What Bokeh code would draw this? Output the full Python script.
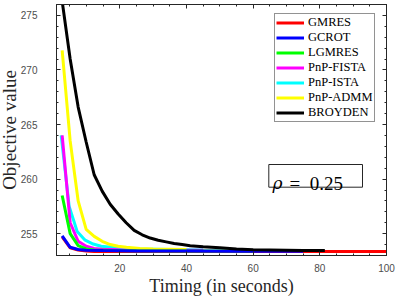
from bokeh.plotting import figure
from bokeh.models import (Range1d, LinearAxis, Legend, LegendItem, Label,
                          BoxAnnotation, SingleIntervalTicker)
from bokeh.embed import file_html
from bokeh.resources import INLINE

# ---- data ----
t_gmres = [2.7, 5.1, 7.5, 9.9, 12.3, 20, 40, 60, 80, 100]
v_gmres = [254.7, 253.7, 253.5, 253.42, 253.37, 253.36, 253.36, 253.36, 253.36, 253.36]

t_gcrot = [2.7, 5.1, 7.5, 9.9, 15, 25, 40, 55, 75]
v_gcrot = [254.8, 253.75, 253.55, 253.48, 253.45, 253.42, 253.41, 253.4, 253.4]

t_lgmres = [2.7, 5.1, 7.5, 9.9, 12.3, 17, 25, 40, 60]
v_lgmres = [258.5, 255.0, 253.9, 253.6, 253.5, 253.45, 253.43, 253.42, 253.42]

t_fista = [2.7, 5.1, 7.5, 9.9, 12.3, 14.7, 19.5, 25, 35, 45]
v_fista = [264.0, 256.0, 254.3, 253.85, 253.65, 253.57, 253.52, 253.5, 253.48, 253.47]

t_ista = [2.4, 4.8, 7.2, 9.6, 12.0, 14.4, 19, 25, 35, 45]
v_ista = [264.0, 257.5, 255.2, 254.4, 254.05, 253.85, 253.7, 253.6, 253.55, 253.5]

t_admm = [2.7, 5.1, 7.5, 9.9, 12.3, 14.7, 17.1, 19.5, 22, 26, 30, 40]
v_admm = [271.8, 263.5, 258.0, 255.4, 254.75, 254.3, 254.0, 253.85, 253.75, 253.65, 253.6, 253.55]

t_broyden = [2.7, 5.1, 7.5, 9.9, 12.3, 14.7, 17.1, 19.5, 21.9, 24.3, 26.7, 29.1,
             31.5, 33.9, 36.3, 38.7, 41.1, 45, 50, 55, 60, 65, 70, 75, 81.5]
v_broyden = [276.3, 271.0, 266.6, 263.4, 260.4, 258.9, 257.7, 256.8, 256.0, 255.3, 254.9, 254.6,
             254.4, 254.25, 254.1, 254.0, 253.9, 253.8, 253.7, 253.6, 253.52, 253.5, 253.48, 253.46, 253.45]

x_ticks_interval = 20
y_ticks_interval = 5

AXIS_COLOR = "#262626"
TICK_LABEL_COLOR = "#4d4d4d"
SERIF = "Liberation Serif"

p = figure(width=404, height=301, x_range=Range1d(1, 100), y_range=Range1d(253, 276),
           output_backend="svg", toolbar_location=None,
           min_border_left=60, min_border_right=13, min_border_top=4, min_border_bottom=46)
p.margin = (0, 0, 0, -5)
p.xgrid.visible = False
p.ygrid.visible = False
p.outline_line_color = AXIS_COLOR
p.background_fill_color = "white"
p.border_fill_color = "white"


def style_axis(ax, show_labels, standoff=0):
    ax.axis_line_color = AXIS_COLOR
    ax.axis_line_width = 1
    ax.major_tick_line_color = AXIS_COLOR
    ax.minor_tick_line_color = AXIS_COLOR
    ax.major_tick_in = 4
    ax.major_tick_out = 0
    ax.minor_tick_in = 2
    ax.minor_tick_out = 0
    if show_labels:
        ax.major_label_text_font = "Liberation Sans"
        ax.major_label_text_font_size = "10px"
        ax.major_label_text_color = TICK_LABEL_COLOR
        ax.major_label_standoff = standoff
    else:
        ax.major_label_text_font_size = "0px"
        ax.major_label_text_color = None
        ax.major_label_standoff = 0


p.xaxis.ticker = SingleIntervalTicker(interval=x_ticks_interval, num_minor_ticks=4)
p.yaxis.ticker = SingleIntervalTicker(interval=y_ticks_interval, num_minor_ticks=5)
style_axis(p.xaxis[0], True, 8)
style_axis(p.yaxis[0], True, 19)

p.xaxis.axis_label = "Timing (in seconds)"
p.xaxis.axis_label_standoff = 1
p.xaxis.axis_label_text_line_height = 1.0
p.xaxis.major_label_text_line_height = 1.0
p.xaxis.axis_label_text_font_size = "18px"
p.yaxis.axis_label = "Objective value"
p.yaxis.axis_label_standoff = -2
p.yaxis.axis_label_text_font_size = "19px"
for ax in (p.xaxis[0], p.yaxis[0]):
    ax.axis_label_text_font = SERIF
    ax.axis_label_text_font_style = "normal"
    ax.axis_label_text_color = "#262626"

top_ax = LinearAxis(ticker=SingleIntervalTicker(interval=x_ticks_interval, num_minor_ticks=4))
right_ax = LinearAxis(ticker=SingleIntervalTicker(interval=y_ticks_interval, num_minor_ticks=5))
style_axis(top_ax, False)
style_axis(right_ax, False)
p.add_layout(top_ax, "above")
p.add_layout(right_ax, "right")

LW = 3
r_gmres = p.line(t_gmres, v_gmres, line_color="#ff0000", line_width=LW)
r_ista = p.line(t_ista, v_ista, line_color="#00ffff", line_width=LW)
r_fista = p.line(t_fista, v_fista, line_color="#ff00ff", line_width=LW)
r_admm = p.line(t_admm, v_admm, line_color="#ffff00", line_width=LW)
r_lgmres = p.line(t_lgmres, v_lgmres, line_color="#00ff00", line_width=LW)
r_gcrot = p.line(t_gcrot, v_gcrot, line_color="#0000ff", line_width=LW)
r_broyden = p.line(t_broyden, v_broyden, line_color="#000000", line_width=LW)

legend = Legend(items=[
    LegendItem(label="GMRES", renderers=[r_gmres]),
    LegendItem(label="GCROT", renderers=[r_gcrot]),
    LegendItem(label="LGMRES", renderers=[r_lgmres]),
    LegendItem(label="PnP-FISTA", renderers=[r_fista]),
    LegendItem(label="PnP-ISTA", renderers=[r_ista]),
    LegendItem(label="PnP-ADMM", renderers=[r_admm]),
    LegendItem(label="BROYDEN", renderers=[r_broyden]),
], location=(218, 133))
legend.border_line_color = AXIS_COLOR
legend.border_line_width = 1
legend.background_fill_color = "white"
legend.background_fill_alpha = 1
legend.padding = 1
legend.spacing = 0
legend.margin = 0
legend.label_height = 15
legend.glyph_height = 15
legend.glyph_width = 28
legend.label_standoff = 4
legend.label_text_font = SERIF
legend.label_text_font_size = "12.5px"
legend.label_text_font_style = "normal"
legend.label_text_color = "black"
p.add_layout(legend, "center")

# rho box
p.add_layout(BoxAnnotation(left=212.3, right=306, bottom=68.3, top=91,
                           left_units="screen", right_units="screen",
                           bottom_units="screen", top_units="screen",
                           fill_color="white", fill_alpha=1,
                           line_color=AXIS_COLOR, line_width=1, line_alpha=1))
p.add_layout(Label(x=216, y=72.3, x_units="screen", y_units="screen", text="ρ",
                   text_font="DejaVu Serif", text_font_style="italic", text_font_size="17px",
                   text_baseline="alphabetic", text_color="black"))
p.add_layout(Label(x=233, y=72.3, x_units="screen", y_units="screen", text="=",
                   text_font=SERIF, text_font_size="19px",
                   text_baseline="alphabetic", text_color="black"))
p.add_layout(Label(x=253.3, y=72.3, x_units="screen", y_units="screen", text="0.25",
                   text_font=SERIF, text_font_size="19px",
                   text_baseline="alphabetic", text_color="black"))

open("out.html", "w").write(file_html(p, INLINE))
